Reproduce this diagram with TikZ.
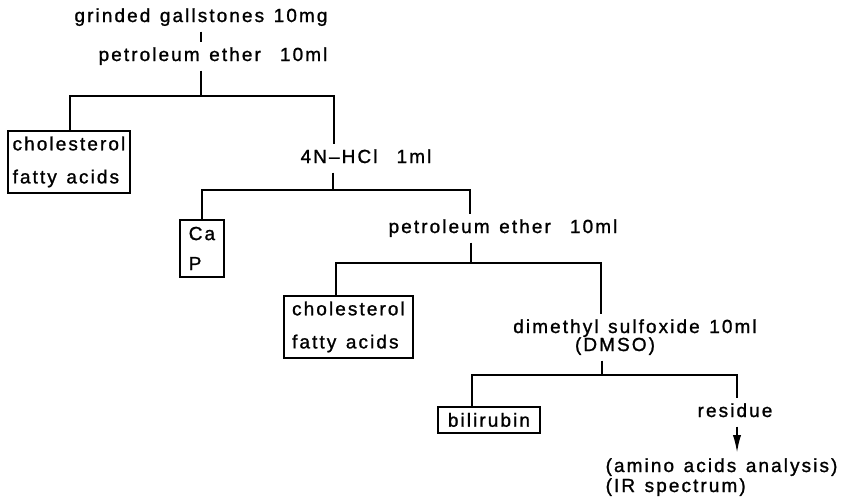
\documentclass[tikz,border=0pt]{standalone}
\usepackage{fontspec}
\setmainfont{Liberation Sans}[LetterSpace=11,WordSpace=1.3,FakeBold=1.2]
\usetikzlibrary{arrows.meta}
\tikzset{
  etape/.style={inner sep=4pt, text height=11.6pt, text depth=3.4pt},
  boite/.style={draw, align=left, inner sep=0pt, font=\fontsize{16.2pt}{28.2pt}\selectfont},
}
\begin{document}
\begin{tikzpicture}[x=0.03cm,y=-0.03cm,line width=1.6pt,font=\fontsize{16.2pt}{19pt}\selectfont]
  \useasboundingbox (0,0) rectangle (864,497);
  % etapes
  \node[etape,anchor=base] (stones) at (201,22) {grinded gallstones 10mg};
  \node[etape,anchor=base] (pe1) at (213,61) {petroleum ether\ \ 10ml};
  \node[etape,anchor=base] (hcl) at (366,163) {4N--HCl\ \ 1ml};
  \node[etape,anchor=base] (pe2) at (503,233) {petroleum ether\ \ 10ml};
  \node[etape,anchor=base] (dmso) at (635,333) {dimethyl sulfoxide 10ml};
  \node[etape,anchor=base] (dmsoabr) at (615,351) {(DMSO)};
  \node[etape,anchor=base] (residue) at (735,417) {residue};
  \node[etape,anchor=base west] (amino) at (600,472) {(amino acids analysis)};
  \node[etape,anchor=base west] (ir) at (600,492) {(IR spectrum)};
  % fractions
  \node[boite,minimum width=3.66cm,minimum height=1.86cm,anchor=north west] (chol1) at (7,130) {cholesterol\\fatty acids};
  \node[boite,minimum width=1.32cm,minimum height=1.71cm,anchor=north west,font=\fontsize{16.2pt}{25.6pt}\selectfont] (cap) at (179,219) {Ca\\P};
  \node[boite,minimum width=3.87cm,minimum height=1.86cm,anchor=north west] (chol2) at (283,295) {cholesterol\\fatty acids};
  \node[boite,minimum width=3.06cm,minimum height=0.78cm,anchor=north west] (bili) at (437,406) {bilirubin};
  % embranchements
  \coordinate (b1) at (201,96);
  \coordinate (b1l) at (70,96);
  \coordinate (b1r) at (334,96);
  \coordinate (b2) at (333,190);
  \coordinate (b2l) at (202,190);
  \coordinate (b2r) at (470,190);
  \coordinate (b3) at (471,263);
  \coordinate (b3l) at (336,263);
  \coordinate (b3r) at (601,263);
  \coordinate (b4) at (602,375);
  \coordinate (b4l) at (472,375);
  \coordinate (b4r) at (737,375);
  \draw (stones.south) -- (stones.south |- pe1.north);
  \draw (pe1.south -| b1) -- (b1);
  \draw (chol1.north -| b1l) -- (b1l) -- (b1r) -- (hcl.north -| b1r);
  \draw (hcl.south -| b2) -- (b2);
  \draw (cap.north -| b2l) -- (b2l) -- (b2r) -- (pe2.north -| b2r);
  \draw (pe2.south -| b3) -- (b3);
  \draw (chol2.north -| b3l) -- (b3l) -- (b3r) -- (dmso.north -| b3r);
  \draw (dmsoabr.south -| b4) -- (b4);
  \draw (bili.north -| b4l) -- (b4l) -- (b4r) -- (residue.north -| b4r);
  \draw[-{Latex[length=15pt,width=7pt]}] (residue.south -| b4r) -- (amino.north -| b4r);
\end{tikzpicture}
\end{document}
